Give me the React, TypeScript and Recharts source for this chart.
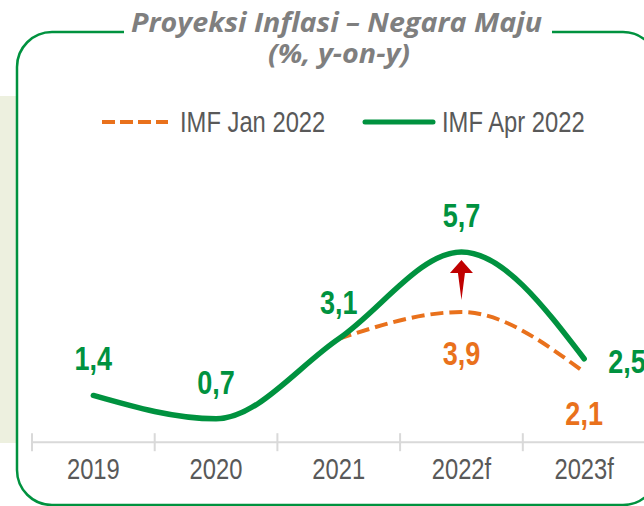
import { LabelList, Line, LineChart, ReferenceDot, XAxis, YAxis } from "recharts";

const years = ["2019", "2020", "2021", "2022f", "2023f"];
const imfApr2022 = [1.4, 0.7, 3.1, 5.7, 2.5];
const imfJan2022: (number | null)[] = [null, null, 3.1, 3.9, 2.1];
const seriesNames = ["IMF Jan 2022", "IMF Apr 2022"];
const titleLines = ["Proyeksi Inflasi \u2013 Negara Maju", "(%, y-on-y)"];

// integer ticks carry the year labels, half steps are the boundary marks
const xTicks = [-0.5, 0, 0.5, 1, 1.5, 2, 2.5, 3, 3.5, 4, 4.5];

const data = years.map((year, i) => ({
  idx: i,
  year,
  apr: imfApr2022[i],
  jan: imfJan2022[i]
}));

const GREEN = "#00923F";
const ORANGE = "#E9711C";
const GREY_TEXT = "#595959";

// no Arial Narrow here, so squeeze Liberation Sans the same way
function NarrowText(props: any) {
  const { x, y, anchor = "start", size, weight = 400, fill, children } = props;
  return (
    <text
      transform={`translate(${x} ${y}) scale(0.82 1)`}
      x={0}
      y={0}
      textAnchor={anchor}
      fontFamily="'Liberation Sans', Arial, sans-serif"
      fontSize={size}
      fontWeight={weight}
      fill={fill}
    >
      {children}
    </text>
  );
}

const fmt = (v: number) => String(v).replace(".", ",");

function YearTick(props: any) {
  const { x, y, payload } = props;
  const v = payload.value as number;
  if (Number.isInteger(v)) {
    return (
      <NarrowText x={x} y={y + 37} anchor="middle" size={29} fill={GREY_TEXT}>
        {years[v]}
      </NarrowText>
    );
  }
  return <line x1={x} x2={x} y1={y - 9} y2={y + 9} stroke="#D9D9D9" strokeWidth={2} />;
}

function AprLabel(props: any) {
  const { x, y, value, index } = props;
  if (value == null) return null;
  const last = index === imfApr2022.length - 1;
  return (
    <NarrowText
      x={last ? x + 24 : x}
      y={last ? y + 14 : y - 25}
      anchor={last ? "start" : "middle"}
      size={33}
      weight={700}
      fill={GREEN}
    >
      {fmt(value)}
    </NarrowText>
  );
}

function JanLabel(props: any) {
  const { x, y, value, index } = props;
  // the 2021 value is shared with the Apr line, labelled there
  if (value == null || index < 3) return null;
  return (
    <NarrowText x={x} y={y + 53} anchor="middle" size={33} weight={700} fill={ORANGE}>
      {fmt(value)}
    </NarrowText>
  );
}

function UpArrow(props: any) {
  const { cx, cy } = props;
  const d = `M ${cx} ${cy - 22} L ${cx + 11.5} ${cy - 9} L ${cx + 3.5} ${cy - 9} L ${cx} ${cy + 18} L ${cx - 3.5} ${cy - 9} L ${cx - 11.5} ${cy - 9} Z`;
  return <path d={d} fill="#C00000" />;
}

function Frame() {
  return (
    <svg width={644} height={506} style={{ position: "absolute", left: 0, top: 0 }}>
      <rect x={0} y={96} width={16} height={347} fill="#EDF0DF" />
      <rect x={17} y={32} width={641} height={473} rx={35} ry={35} fill="none" stroke={GREEN} strokeWidth={2.5} />
      <rect x={124} y={26} width={428} height={12} fill="#FFFFFF" />
      <text
        x={336.5}
        y={32}
        textAnchor="middle"
        fontFamily="'Open Sans', sans-serif"
        fontStyle="italic"
        fontWeight={700}
        fontSize={26}
        fill="#7F7F7F"
        textLength={411}
        lengthAdjust="spacingAndGlyphs"
      >
        {titleLines[0]}
      </text>
      <text
        x={339}
        y={63}
        textAnchor="middle"
        fontFamily="'Open Sans', sans-serif"
        fontStyle="italic"
        fontWeight={700}
        fontSize={26}
        fill="#7F7F7F"
        textLength={142}
        lengthAdjust="spacingAndGlyphs"
      >
        {titleLines[1]}
      </text>
      <line x1={102} x2={168} y1={122} y2={122} stroke={ORANGE} strokeWidth={4} strokeDasharray="13 5" />
      <NarrowText x={180} y={132} size={29} fill={GREY_TEXT}>
        {seriesNames[0]}
      </NarrowText>
      <line x1={365} x2={433} y1={122} y2={122} stroke={GREEN} strokeWidth={5} strokeLinecap="round" />
      <NarrowText x={442} y={132} size={29} fill={GREY_TEXT}>
        {seriesNames[1]}
      </NarrowText>
    </svg>
  );
}

export default function App() {
  return (
    <div style={{ position: "absolute", left: 0, top: 0, width: 644, height: 506, overflow: "hidden", background: "#FFFFFF" }}>
      <Frame />
      <div style={{ position: "absolute", left: 0, top: 0 }}>
        <LineChart width={700} height={506} data={data} margin={{ top: 208.6, right: 54.5, bottom: 33.8, left: 32 }}>
          <XAxis
            dataKey="idx"
            type="number"
            domain={[-0.5, 4.5]}
            ticks={xTicks}
            interval={0}
            tick={<YearTick />}
            tickSize={0}
            tickMargin={0}
            tickLine={false}
            axisLine={{ stroke: "#D9D9D9", strokeWidth: 2 }}
            height={30}
          />
          <YAxis type="number" domain={[0, 7]} hide />
          <Line
            dataKey="jan"
            name={seriesNames[0]}
            type="monotone"
            stroke={ORANGE}
            strokeWidth={4}
            strokeDasharray="13 6"
            dot={false}
            activeDot={false}
            isAnimationActive={false}
          >
            <LabelList dataKey="jan" content={<JanLabel />} />
          </Line>
          <Line
            dataKey="apr"
            name={seriesNames[1]}
            type="monotone"
            stroke={GREEN}
            strokeWidth={5.5}
            strokeLinecap="round"
            dot={false}
            activeDot={false}
            isAnimationActive={false}
          >
            <LabelList dataKey="apr" content={<AprLabel />} />
          </Line>
          <ReferenceDot x={3} y={(imfJan2022[3]! + imfApr2022[3]) / 2} shape={<UpArrow />} />
        </LineChart>
      </div>
    </div>
  );
}
